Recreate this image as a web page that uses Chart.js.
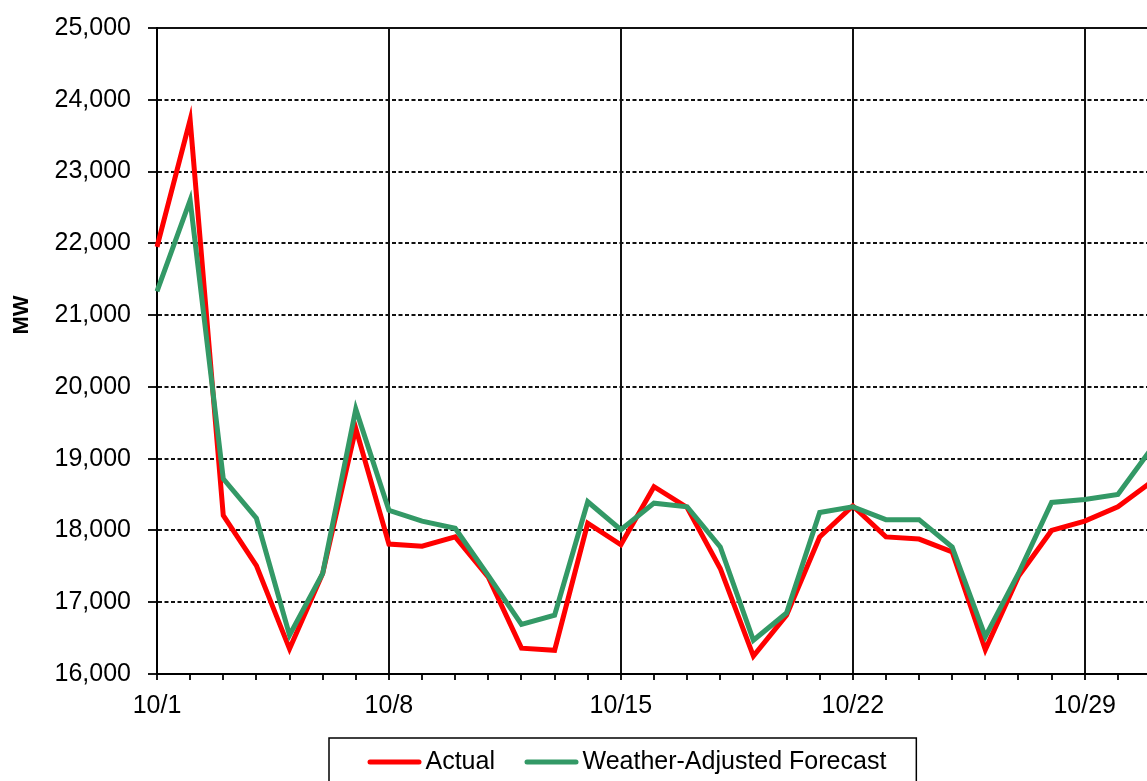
<!DOCTYPE html>
<html><head><meta charset="utf-8">
<script src="https://cdn.jsdelivr.net/npm/chart.js@4.4.0/dist/chart.umd.min.js"></script>
<style>html,body{margin:0;padding:0;overflow:hidden;background:#fff;width:1147px;height:781px}
#wrap{position:absolute;left:0;top:0;width:1200px;height:800px}</style></head>
<body><div id="wrap"><canvas id="c" width="1200" height="800"></canvas></div>
<script>
const categories = ['10/1','10/2','10/3','10/4','10/5','10/6','10/7','10/8','10/9','10/10','10/11','10/12','10/13','10/14','10/15','10/16','10/17','10/18','10/19','10/20','10/21','10/22','10/23','10/24','10/25','10/26','10/27','10/28','10/29','10/30','10/31'];
const actual = [21950, 23720, 18210, 17510, 16350, 17400, 19420, 17810, 17780, 17910, 17350, 16360, 16330, 18100, 17800, 18610, 18320, 17470, 16250, 16820, 17910, 18340, 17910, 17880, 17700, 16340, 17360, 18000, 18130, 18330, 18670];
const forecast = [21330, 22600, 18720, 18170, 16540, 17400, 19690, 18280, 18130, 18030, 17370, 16690, 16820, 18400, 18010, 18380, 18330, 17770, 16470, 16850, 18250, 18330, 18150, 18150, 17770, 16520, 17400, 18390, 18430, 18500, 19130];
const xTickLabels = ['10/1','10/8','10/15','10/22','10/29'];
const seriesNames = ['Actual','Weather-Adjusted Forecast'];
const seriesColors = ['#FF0000','#339966'];
const yMin = 16000, yMax = 25000, yStep = 1000;

Chart.defaults.font.family = "'Liberation Sans', Arial, sans-serif";
Chart.defaults.font.size = 25;
Chart.defaults.color = '#000';

function lineImg(color){
  const c = document.createElement('canvas'); c.width = 55; c.height = 6;
  const g = c.getContext('2d'); g.strokeStyle = color; g.lineWidth = 5; g.lineCap = 'round';
  g.beginPath(); g.moveTo(3,3); g.lineTo(52,3); g.stroke(); return c;
}
const legendImgs = seriesColors.map(lineImg);

const tweak = {
  id: 'tweak',
  afterLayout(chart){
    const s = chart.scales.y;
    if (!s.__w){
      const orig = s.drawTitle;
      s.drawTitle = function(...a){ const ctx = this.ctx; ctx.save(); ctx.translate(0,-36); orig.apply(this,a); ctx.restore(); };
      s.__w = true;
    }
  },
  afterUpdate(chart){
    const lg = chart.legend, hb = lg.legendHitBoxes;
    if (!hb || !hb.length) return;
    const pad = lg.options.labels.padding;
    const dx = 376 - hb[0].left;
    const dy = 762 - (lg.top + pad + 12.5);
    lg.left += dx; lg.right += dx; lg.top += dy; lg.bottom += dy;
    hb.forEach(h => { h.left += dx; h.top += dy; });
  },
  afterDraw(chart){
    const lg = chart.legend, hb = lg.legendHitBoxes;
    if (!hb || !hb.length) return;
    const pad = lg.options.labels.padding;
    const cy = lg.top + pad + 12.5;
    const last = hb[hb.length-1];
    const l = hb[0].left - 47, r = last.left + last.width + 30;
    const ctx = chart.ctx; ctx.save(); ctx.strokeStyle = '#000'; ctx.lineWidth = 1.5;
    ctx.strokeRect(l, cy - 24, r - l, 48); ctx.restore();
  }
};

new Chart(document.getElementById('c'), {
  type: 'line',
  data: {
    labels: categories,
    datasets: [
      { label: seriesNames[0], data: actual, borderColor: seriesColors[0], backgroundColor: seriesColors[0], borderWidth: 5, pointRadius: 0, tension: 0, order: 1 },
      { label: seriesNames[1], data: forecast, borderColor: seriesColors[1], backgroundColor: seriesColors[1], borderWidth: 5, pointRadius: 0, tension: 0, order: 0 }
    ]
  },
  options: {
    responsive: false,
    animation: false,
    devicePixelRatio: 1,
    layout: { padding: { left: 9, top: 28, right: 49, bottom: 0 } },
    plugins: {
      tooltip: { enabled: false },
      legend: {
        position: 'bottom',
        labels: {
          usePointStyle: true,
          pointStyleWidth: 37,
          padding: 38,
          font: { size: 25 },
          color: '#000',
          sort: (a,b) => a.datasetIndex - b.datasetIndex,
          generateLabels(chart){
            const items = Chart.defaults.plugins.legend.labels.generateLabels(chart);
            items.forEach(it => { it.pointStyle = legendImgs[it.datasetIndex]; });
            return items;
          }
        }
      }
    },
    scales: {
      x: {
        type: 'category',
        offset: false,
        afterFit(s){ s.height = 53; s.paddingLeft = 0; s.paddingRight = 0; },
        grid: {
          color: c => (c.tick && xTickLabels.includes(categories[c.index])) ? '#111' : 'rgba(0,0,0,0)',
          lineWidth: 2,
          tickColor: '#000',
          tickLength: 6,
          tickWidth: 1.8
        },
        border: { color: '#000', width: 2 },
        ticks: {
          autoSkip: false, maxRotation: 0, padding: 11,
          font: { size: 25 }, color: '#000',
          callback(v, i){ const l = categories[i]; return xTickLabels.includes(l) ? l : ''; }
        }
      },
      y: {
        min: yMin, max: yMax,
        afterFit(s){ s.width = 148; s.paddingTop = 0; s.paddingBottom = 0; },
        title: { display: true, text: 'MW', font: { size: 22, weight: 'bold' }, color: '#000', padding: { top: 0, bottom: 0 } },
        grid: {
          color: '#111', lineWidth: 2, tickColor: '#000', tickLength: 9, tickWidth: 1.8, tickBorderDash: []
        },
        border: { color: '#000', width: 2, dash: c => (c.tick && c.tick.value === yMax) ? [] : [4,2.5] },
        ticks: {
          stepSize: yStep, padding: 17, font: { size: 25 }, color: '#000',
          callback: v => v.toLocaleString('en-US')
        }
      }
    }
  },
  plugins: [tweak]
});
</script></body></html>
